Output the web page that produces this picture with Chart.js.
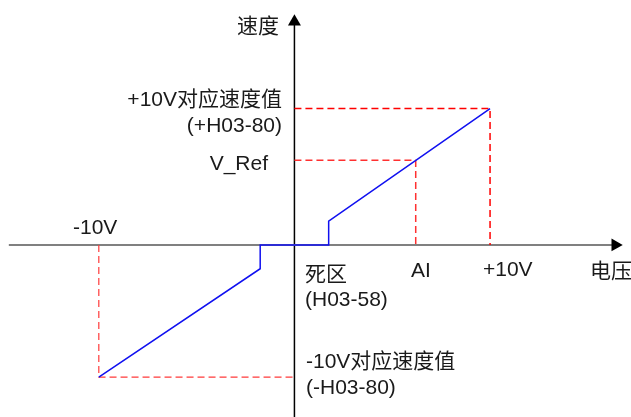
<!DOCTYPE html>
<html>
<head>
<meta charset="utf-8">
<script src="https://cdn.jsdelivr.net/npm/chart.js@4"></script>
<style>
  body { margin: 0; background: #fff; }
  canvas { display: block; }
</style>
</head>
<body>
<canvas id="grafico" width="631" height="417"></canvas>
<script>
// curve: voltage (V) -> speed (% of the +10V value)
const voltage = [-10, -1.75, -1.75, 1.75, 1.75, 10];
const speed = [-97, -17.5, 0, 0, 17.5, 100];

// reference points
const aiVolt = 6.2;
const vRef = 62;
const topSpeed = 100;
const bottomSpeed = -97;

// axes extent (data units); last value repeated so the arrow sits in the middle
const xAxisRange = [-14.6, 16.4, 16.4];
const yAxisRange = [-130, 163.7, 163.7];

// texts
const axisNames = ['速度', '电压'];
const tickTexts = ['-10V', 'AI', '+10V', 'V_Ref'];
const noteTexts = ['+10V对应速度值', '(+H03-80)', '死区', '(H03-58)', '-10V对应速度值', '(-H03-80)'];

const pts = (xs, ys) => xs.map((x, i) => ({ x: x, y: ys[i] }));

const dash = [7, 4];

const data = {
  datasets: [
    {
      data: pts(voltage, speed),
      borderColor: '#1010f0',
      borderWidth: 1.5,
      pointRadius: 0
    },
    {
      data: pts([0, 10, 10], [topSpeed, topSpeed, 0]),
      borderColor: '#ff0000',
      borderWidth: 1.5,
      borderDash: dash,
      pointRadius: 0
    },
    {
      data: pts([0, aiVolt, aiVolt], [vRef, vRef, 0]),
      borderColor: '#ff3030',
      borderWidth: 1.5,
      borderDash: dash,
      pointRadius: 0
    },
    {
      data: pts([-10, -10, 0], [0, bottomSpeed, bottomSpeed]),
      borderColor: '#ff3a3a',
      borderWidth: 1.2,
      borderDash: dash,
      pointRadius: 0
    },
    {
      // x axis
      data: pts(xAxisRange, [0, 0, 0]),
      borderColor: '#808080',
      borderWidth: 2,
      pointRadius: [0, 7.5, 0],
      pointStyle: 'triangle',
      pointRotation: 90,
      pointBackgroundColor: '#000',
      pointBorderColor: '#000',
      pointBorderWidth: 0
    },
    {
      // y axis
      data: pts([0, 0, 0], yAxisRange),
      borderColor: '#000',
      borderWidth: 1.5,
      pointRadius: [0, 7.5, 0],
      pointStyle: 'triangle',
      pointBackgroundColor: '#000',
      pointBorderColor: '#000',
      pointBorderWidth: 0
    }
  ]
};

const textos = {
  id: 'textos',
  afterDatasetsDraw(chart) {
    const ctx = chart.ctx;
    ctx.save();
    ctx.font = '21px "Liberation Sans", "Noto Sans CJK SC", sans-serif';
    ctx.fillStyle = '#1a1a1a';
    ctx.textBaseline = 'alphabetic';
    const put = (t, x, y, align) => {
      ctx.textAlign = align;
      ctx.fillText(t, x, y);
    };
    put(axisNames[0], 279, 33, 'right');
    put(axisNames[1], 590, 278, 'left');
    put(tickTexts[0], 73, 234, 'left');
    put(tickTexts[1], 411, 277, 'left');
    put(tickTexts[2], 483, 276, 'left');
    put(tickTexts[3], 268, 170, 'right');
    put(noteTexts[0], 282, 106, 'right');
    put(noteTexts[1], 282, 132, 'right');
    put(noteTexts[2], 305, 281, 'left');
    put(noteTexts[3], 305, 306, 'left');
    put(noteTexts[4], 306, 368, 'left');
    put(noteTexts[5], 306, 394, 'left');
    ctx.restore();
  }
};

const config = {
  type: 'scatter',
  data,
  options: {
    responsive: false,
    animation: false,
    devicePixelRatio: 1,
    showLine: true,
    layout: { padding: 0 },
    scales: {
      x: { type: 'linear', display: false, min: -15.051, max: 17.205 },
      y: { type: 'linear', display: false, min: -126.23, max: 179.59 }
    },
    plugins: {
      legend: { display: false },
      tooltip: { enabled: false },
      title: { display: false }
    }
  },
  plugins: [textos]
};

const meuGrafico = new Chart(document.getElementById('grafico'), config);
</script>
</body>
</html>
